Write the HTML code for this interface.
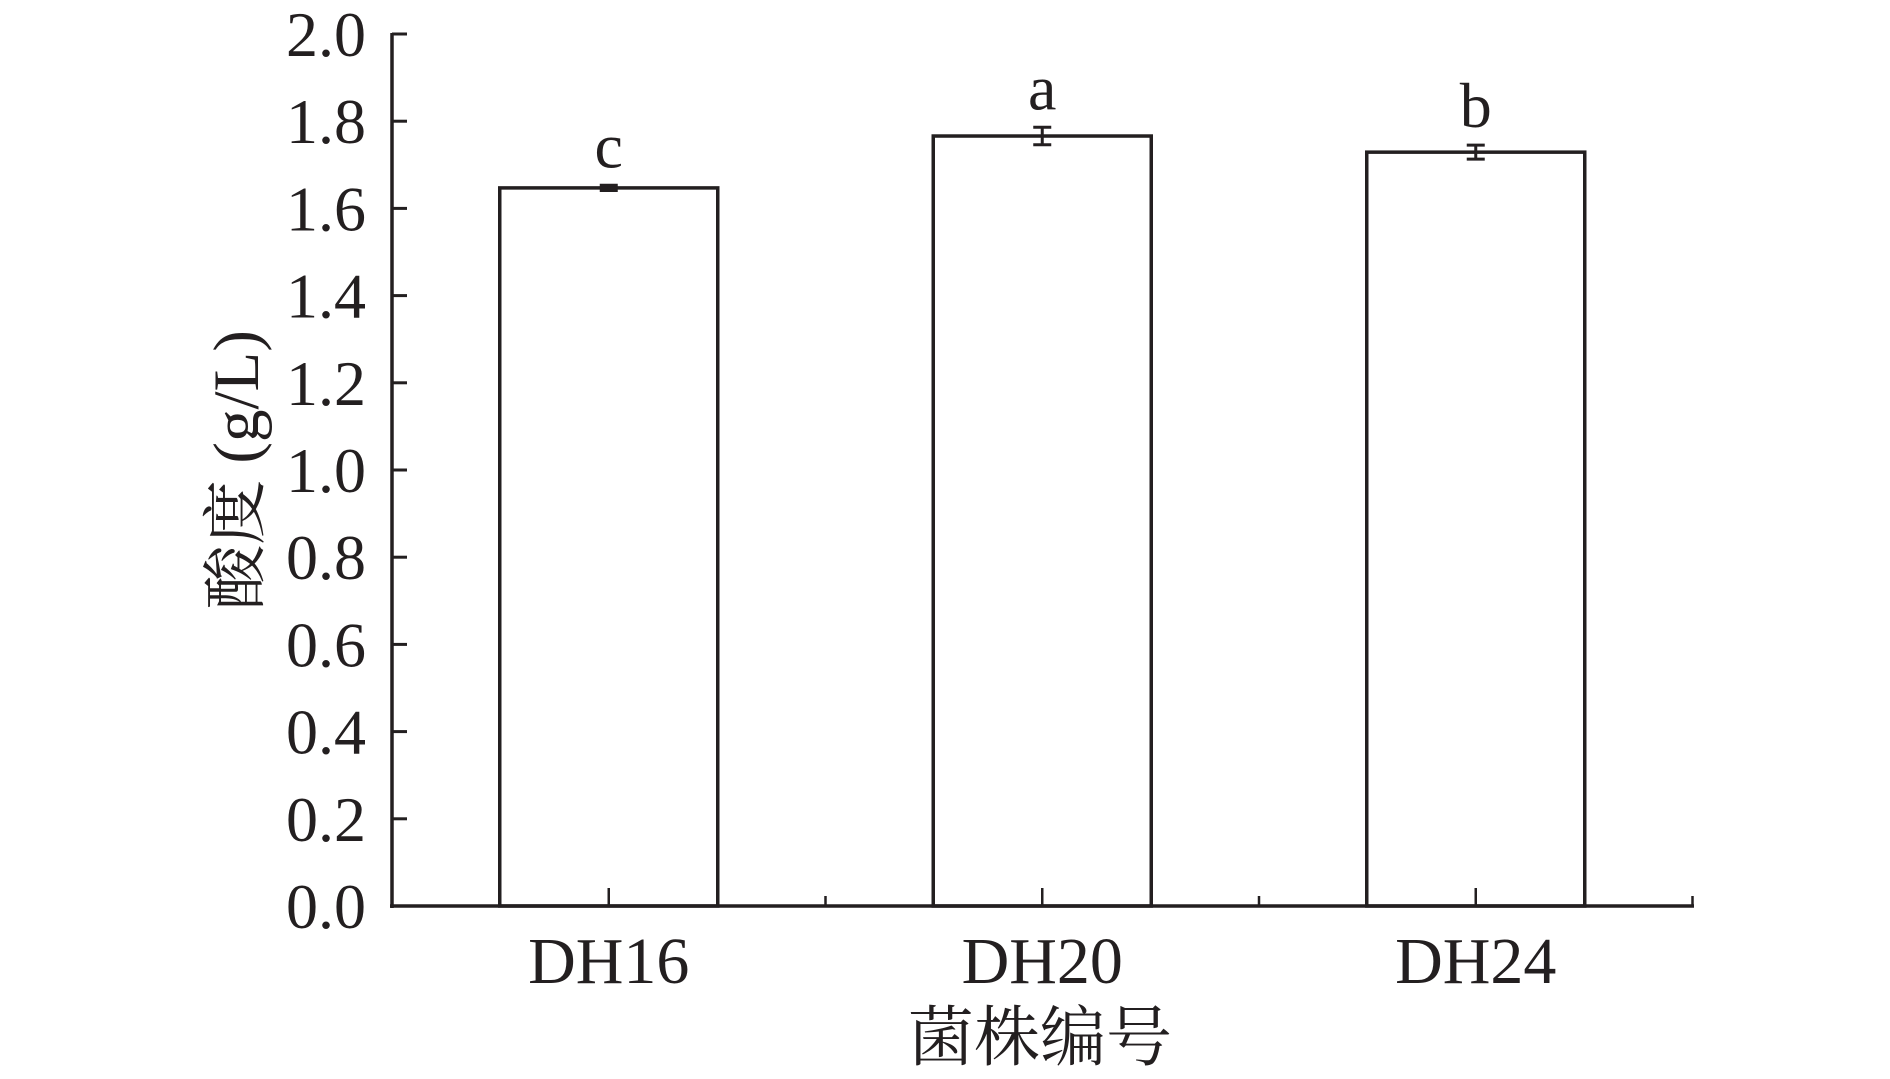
<!DOCTYPE html>
<html><head><meta charset="utf-8">
<style>
html,body{margin:0;padding:0;background:#fff;}
svg{display:block;}
text{font-family:"Liberation Serif","Noto Serif CJK SC",serif;fill:#231f20;}
</style></head>
<body>
<svg id="chart" width="1890" height="1079"></svg>
<script>
const categories = ["DH16","DH20","DH24"];
const values = [1.647,1.766,1.729];
const errors = [0.006,0.02,0.016];
const letters = ["c","a","b"];
const yTicks = [0,0.2,0.4,0.6,0.8,1.0,1.2,1.4,1.6,1.8,2.0];
const yTickLabels = ["0.0","0.2","0.4","0.6","0.8","1.0","1.2","1.4","1.6","1.8","2.0"];

const NS="http://www.w3.org/2000/svg";
const svg=document.getElementById('chart');
const X0=392, X1=1694, Y0=906, Y2=34;
const y=v=>Y0-(v/2.0)*(Y0-Y2);
const bandStart=392, band=433.5;
const xc=i=>bandStart+band*(i+0.5);
const barW=218;
function mk(tag,attrs,parent){const e=document.createElementNS(NS,tag);for(const k in attrs)e.setAttribute(k,attrs[k]);(parent||svg).appendChild(e);return e;}
const col="#231f20";

categories.forEach((c,i)=>{
  const r=mk('rect',{x:xc(i)-barW/2,y:y(values[i]),width:barW,height:Y0-y(values[i]),fill:'#fff',stroke:col,'stroke-width':3.5});
  
  
  const g=mk('g',{stroke:col,'stroke-width':3});
  
  
  const top=y(values[i]+errors[i]),bot=y(values[i]-errors[i]);
  mk('line',{x1:xc(i),x2:xc(i),y1:top,y2:bot},g);
  mk('line',{x1:xc(i)-9,x2:xc(i)+9,y1:top,y2:top},g);
  mk('line',{x1:xc(i)-9,x2:xc(i)+9,y1:bot,y2:bot},g);
  const t=mk('text',{x:xc(i),y:top-18,'text-anchor':'middle','font-size':64});
  t.textContent=letters[i];
  
  
  const l=mk('text',{x:xc(i),y:983,'text-anchor':'middle','font-size':66});
  l.textContent=c;
  
  
  const tk=mk('line',{x1:xc(i),x2:xc(i),y1:Y0,y2:Y0-18,stroke:col,'stroke-width':2.5});
  
  
  const mt=mk('line',{x1:bandStart+band*(i+1),x2:bandStart+band*(i+1),y1:Y0,y2:Y0-10,stroke:col,'stroke-width':2.5});
  
  
});

const ya=mk('line',{x1:X0,x2:X0,y1:Y2-1,y2:Y0+2,stroke:col,'stroke-width':3.5});


const xa=mk('line',{x1:X0-2,x2:X1,y1:Y0,y2:Y0,stroke:col,'stroke-width':3.5});



yTicks.forEach((v,i)=>{
  const t=mk('line',{x1:X0,x2:X0+15,y1:y(v),y2:y(v),stroke:col,'stroke-width':3});
  
  
  const l=mk('text',{x:366,y:y(v)+22,'text-anchor':'end','font-size':64});
  l.textContent=yTickLabels[i];
  
  
});

const yt=mk('text',{x:0,y:0,'text-anchor':'middle','font-size':65,transform:'translate(258,470) rotate(-90)'});
yt.textContent='酸度 (g/L)';


const xt=mk('text',{x:1040,y:1060,'text-anchor':'middle','font-size':66});
xt.textContent='菌株编号';


</script>
</body></html>
